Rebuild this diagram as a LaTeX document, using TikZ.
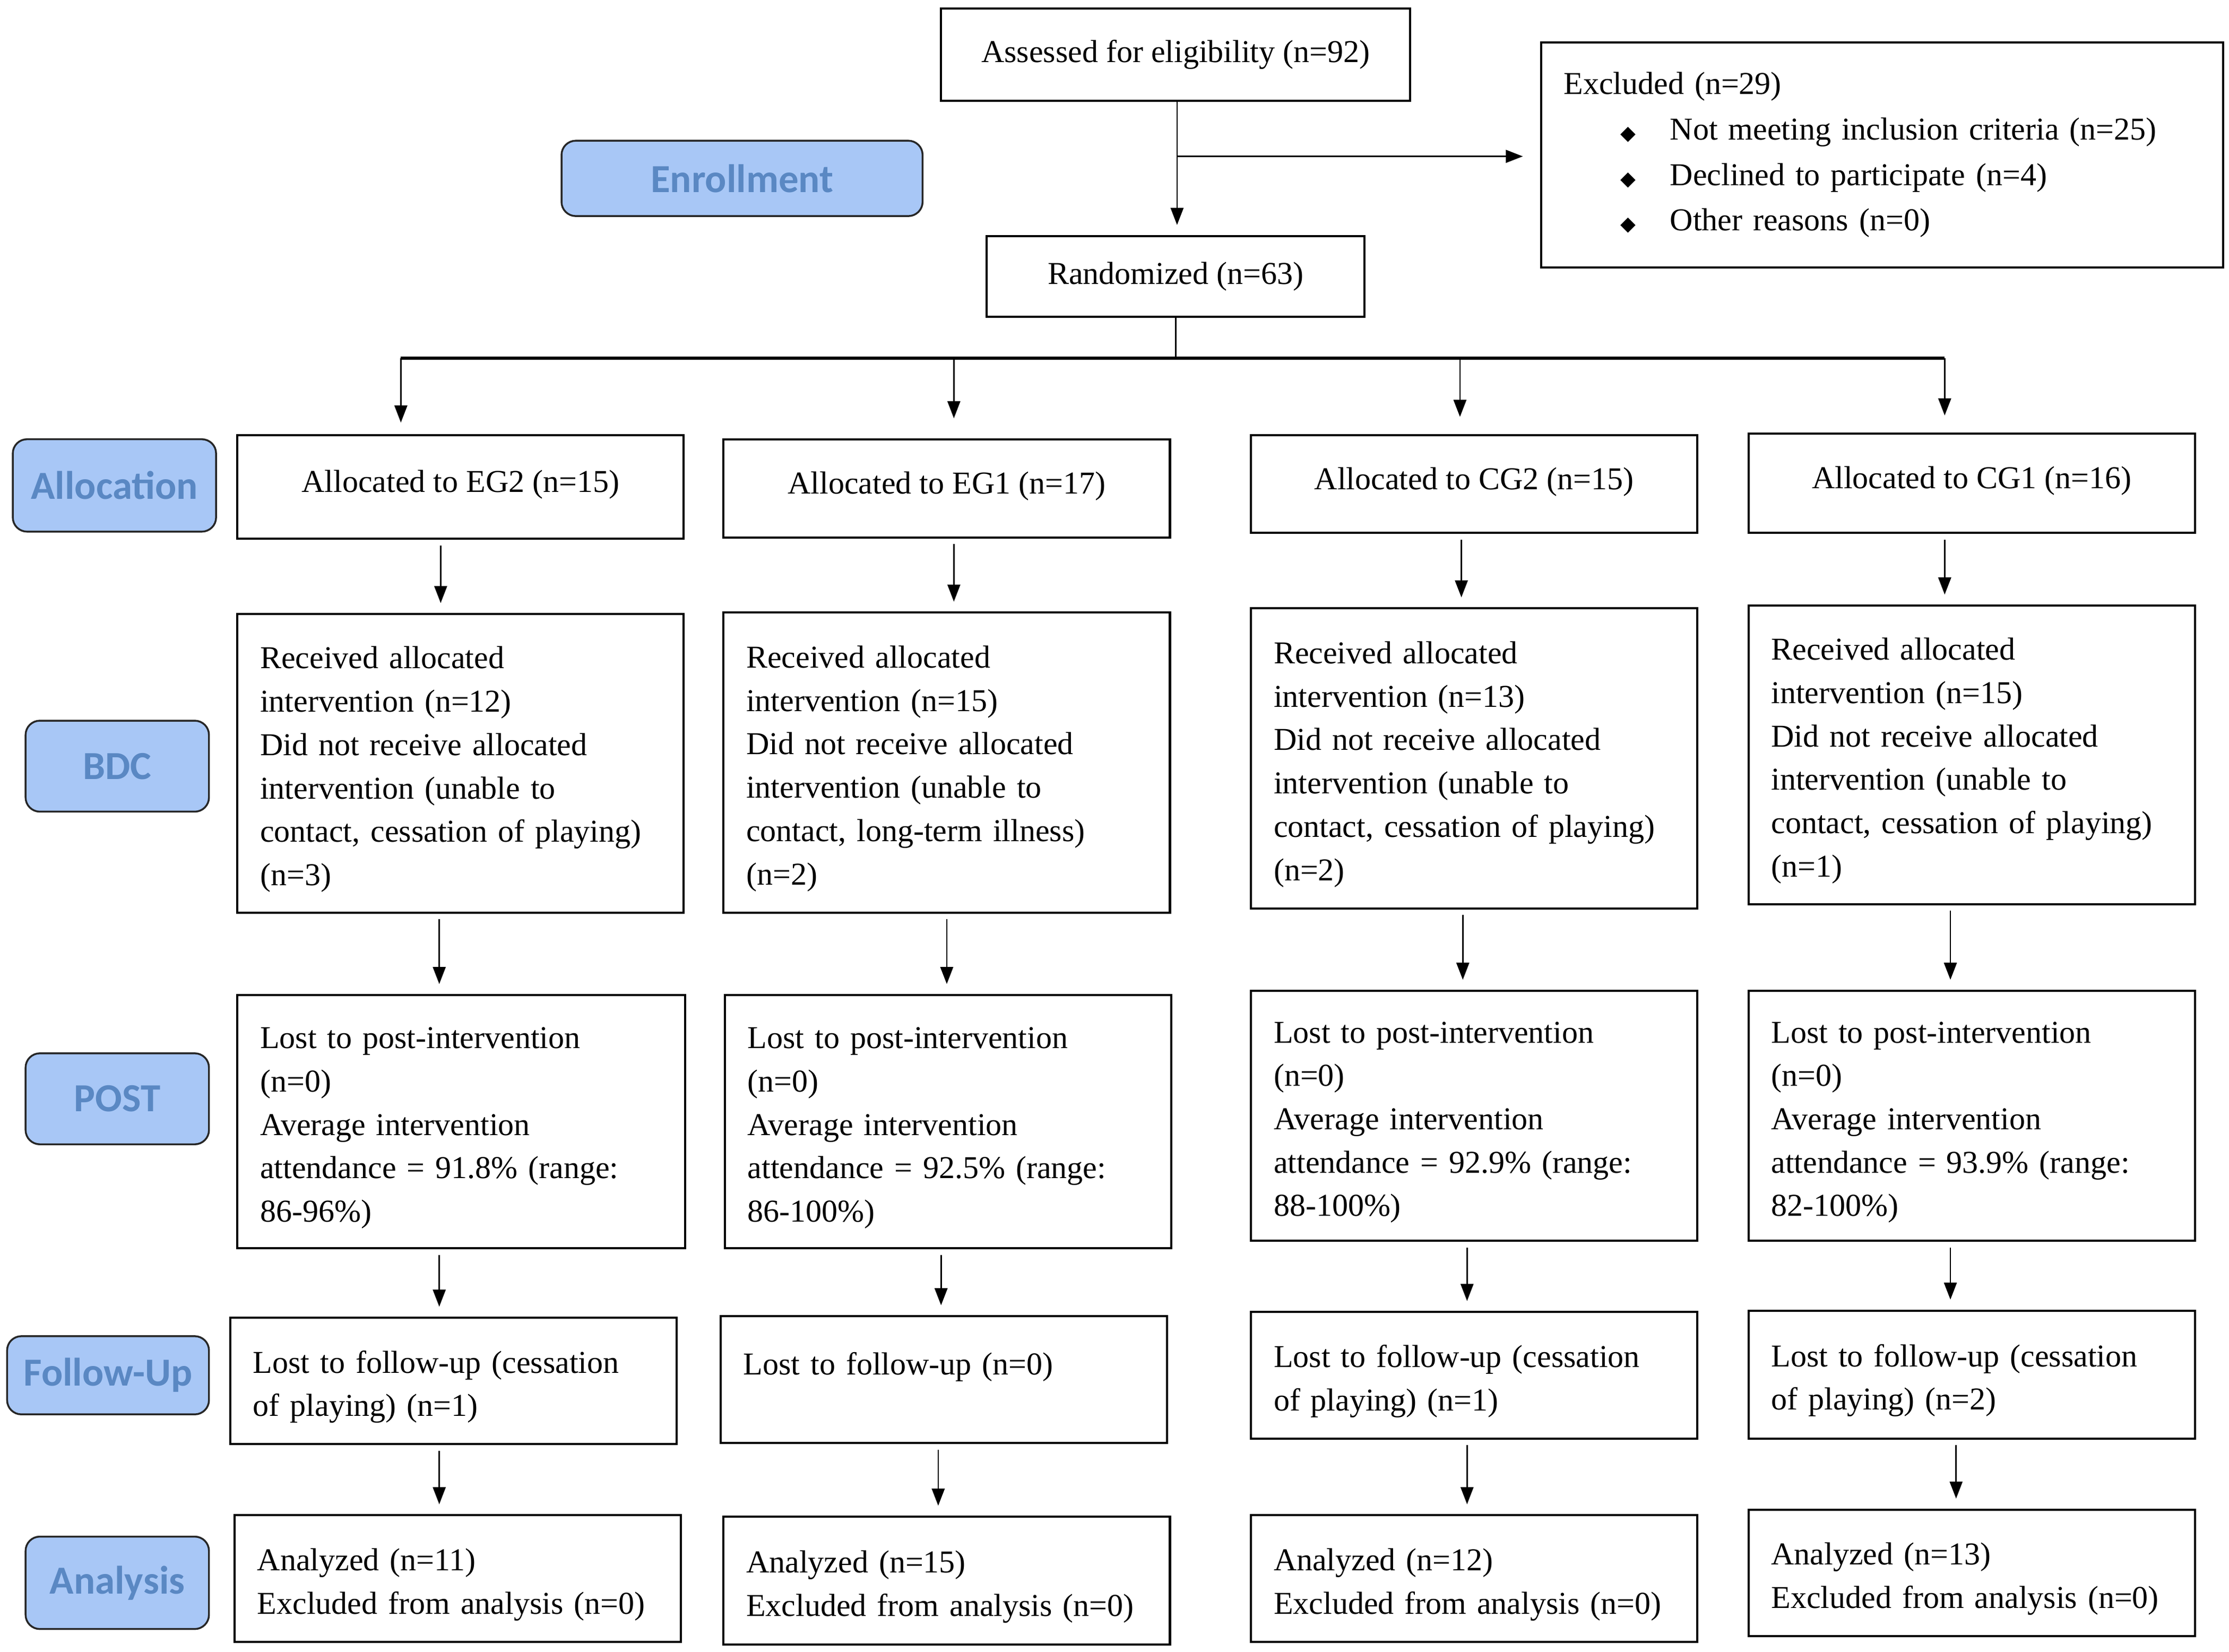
\documentclass[tikz,border=0pt]{standalone}
\usepackage{fontspec}
\setmainfont{Liberation Serif}
\newfontfamily\labfont{Carlito}
\newfontfamily\dvfont{DejaVu Sans}
\usetikzlibrary{arrows.meta}
\definecolor{labfill}{HTML}{A8C7F6}
\definecolor{labtext}{HTML}{5A88C3}
\tikzset{
  box/.style={draw, line width=1.5pt, inner xsep=16pt, inner ysep=0pt, align=left,
    font=\fontsize{22.4}{30.5}\selectfont},
  cbox/.style={draw, line width=1.5pt, inner sep=0pt, align=center,
    font=\fontsize{22.4}{30.5}\selectfont},
  lab/.style={draw=black!85, line width=1.3pt, fill=labfill, rounded corners=10pt,
    text=labtext, inner sep=0pt, font=\labfont\bfseries\fontsize{28}{28}\selectfont},
  arr/.style={line width=1pt, -{Triangle[length=12pt,width=9pt]}, shorten <=4pt, shorten >=7pt},
}
\newcommand{\bx}[6]{% name, cx, cy, W, H, text
  \node[box, text width=#4pt-32pt, minimum height=#5pt] (#1) at (#2,#3) {\rule{0pt}{24pt}#6};}
\newcommand{\vfl}[4]{% src, dx, tgt, dx2
  \draw[arr] ([xshift=#2pt]#1.south) -- ([xshift=#4pt]#3.north);}
\begin{document}
\begin{tikzpicture}[x=1pt,y=-1pt]
\path[use as bounding box, fill=white] (0,0) rectangle (1568,1162);

% top
\node[cbox, minimum width=330pt, minimum height=65pt] (assess) at (827,38.5) {Assessed for eligibility (n=92)};
\node[box, text width=448pt, minimum height=158pt, font=\fontsize{22.4}{32}\selectfont] (excl) at (1324,109)
 {Excluded (n=29)\\
  \hspace*{40pt}{\dvfont\fontsize{14}{14}\selectfont ◆}\hspace{24pt}Not meeting inclusion criteria (n=25)\\
  \hspace*{40pt}{\dvfont\fontsize{14}{14}\selectfont ◆}\hspace{24pt}Declined to participate (n=4)\\
  \hspace*{40pt}{\dvfont\fontsize{14}{14}\selectfont ◆}\hspace{24pt}Other reasons (n=0)};
\node[cbox, minimum width=266pt, minimum height=57pt] (rand) at (827,194.5) {Randomized (n=63)};

% labels
\node[lab, minimum width=254pt, minimum height=53pt] (lenr) at (522,125.5) {Enrollment};
\node[lab, minimum width=143pt, minimum height=65pt] (lall) at (80.5,341.5) {Allocation};
\node[lab, minimum width=129pt, minimum height=64pt] (lbdc) at (82.5,539) {BDC};
\node[lab, minimum width=129pt, minimum height=64pt] (lpost) at (82.5,773) {POST};
\node[lab, minimum width=142pt, minimum height=55pt] (lfol) at (76,967.5) {Follow-Up};
\node[lab, minimum width=129pt, minimum height=65pt] (lana) at (82.5,1113.5) {Analysis};

% allocation boxes
\node[cbox, minimum width=314pt, minimum height=73pt] (a1) at (324,342.5) {Allocated to EG2 (n=15)\\[-22.5pt]\mbox{}};
\node[cbox, minimum width=314pt, minimum height=69pt] (a2) at (666,343.5) {Allocated to EG1 (n=17)\\[-22.5pt]\mbox{}};
\node[cbox, minimum width=314pt, minimum height=69pt] (a3) at (1037,340.5) {Allocated to CG2 (n=15)\\[-22.5pt]\mbox{}};
\node[cbox, minimum width=314pt, minimum height=70pt] (a4) at (1387,340) {Allocated to CG1 (n=16)\\[-22.5pt]\mbox{}};

% BDC
\bx{b1}{324}{537}{314}{210}{Received allocated\\intervention (n=12)\\Did not receive allocated\\intervention (unable to\\contact, cessation of playing)\\(n=3)}
\bx{b2}{666}{536.5}{314}{211}{Received allocated\\intervention (n=15)\\Did not receive allocated\\intervention (unable to\\contact, long-term illness)\\(n=2)}
\bx{b3}{1037}{533.5}{314}{211}{Received allocated\\intervention (n=13)\\Did not receive allocated\\intervention (unable to\\contact, cessation of playing)\\(n=2)}
\bx{b4}{1387}{531}{314}{210}{Received allocated\\intervention (n=15)\\Did not receive allocated\\intervention (unable to\\contact, cessation of playing)\\(n=1)}

% POST
\bx{p1}{324.5}{789}{315}{178}{Lost to post-intervention\\(n=0)\\Average intervention\\attendance = 91.8\% (range:\\86-96\%)}
\bx{p2}{667}{789}{314}{178}{Lost to post-intervention\\(n=0)\\Average intervention\\attendance = 92.5\% (range:\\86-100\%)}
\bx{p3}{1037}{785}{314}{176}{Lost to post-intervention\\(n=0)\\Average intervention\\attendance = 92.9\% (range:\\88-100\%)}
\bx{p4}{1387}{785}{314}{176}{Lost to post-intervention\\(n=0)\\Average intervention\\attendance = 93.9\% (range:\\82-100\%)}

% Follow-up
\bx{f1}{319}{971.5}{314}{89}{Lost to follow-up (cessation\\of playing) (n=1)}
\bx{f2}{664}{970.5}{314}{89}{Lost to follow-up (n=0)\\\mbox{}}
\bx{f3}{1037}{967.5}{314}{89}{Lost to follow-up (cessation\\of playing) (n=1)}
\bx{f4}{1387}{967}{314}{90}{Lost to follow-up (cessation\\of playing) (n=2)}

% Analysis
\bx{n1}{322}{1110.5}{314}{89}{Analyzed (n=11)\\Excluded from analysis (n=0)}
\bx{n2}{666}{1112}{314}{90}{Analyzed (n=15)\\Excluded from analysis (n=0)}
\bx{n3}{1037}{1110.5}{314}{89}{Analyzed (n=12)\\Excluded from analysis (n=0)}
\bx{n4}{1387}{1106.5}{314}{89}{Analyzed (n=13)\\Excluded from analysis (n=0)}

% top connectors
\coordinate (br) at (828,110);
\draw[line width=1pt] ([xshift=1pt]assess.south) -- ++(0,11);
\draw[arr, shorten <=0pt] ([xshift=1pt,yshift=-11pt]assess.south) -- ([xshift=1pt]rand.north);
\draw[arr, line width=1.2pt, shorten <=0pt, shorten >=12pt] (br) -- (br -| excl.west);
\coordinate (sp) at (827,252);
\coordinate (t1) at (282,252);
\coordinate (t2) at (671,252);
\coordinate (t3) at (1027,252);
\coordinate (t4) at (1368,252);
\draw[line width=1pt] (rand.south) -- (sp);
\draw[line width=2pt] (t1) -- (t4);
\draw[arr, shorten <=0pt, shorten >=8pt] (t1) -- (t1 |- a1.north);
\draw[arr, shorten <=0pt, shorten >=14pt] (t2) -- (t2 |- a2.north);
\draw[arr, shorten <=0pt, shorten >=12pt] (t3) -- (t3 |- a3.north);
\draw[arr, shorten <=0pt, shorten >=12pt] (t4) -- (t4 |- a4.north);

% column connectors
\vfl{a1}{-14}{b1}{-14}
\vfl{b1}{-15}{p1}{-15.5}
\vfl{p1}{-15.5}{f1}{-10}
\vfl{f1}{-10}{n1}{-13}
\vfl{a2}{5}{b2}{5}
\vfl{b2}{0}{p2}{-1}
\vfl{p2}{-5}{f2}{-2}
\vfl{f2}{-4}{n2}{-6}
\vfl{a3}{-9}{b3}{-9}
\vfl{b3}{-8}{p3}{-8}
\vfl{p3}{-5}{f3}{-5}
\vfl{f3}{-5}{n3}{-5}
\vfl{a4}{-19}{b4}{-19}
\vfl{b4}{-15}{p4}{-15}
\vfl{p4}{-15}{f4}{-15}
\vfl{f4}{-11}{n4}{-11}
\end{tikzpicture}
\end{document}
